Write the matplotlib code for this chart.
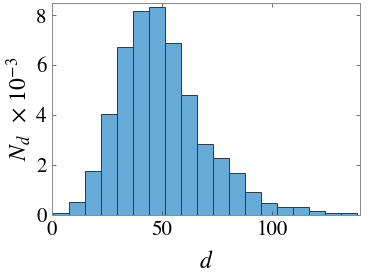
import numpy as np
import matplotlib
matplotlib.use("Agg")
import matplotlib.pyplot as plt

# bin edges of the histogram (d values)
bin_start = 0.3
bin_width = 7.28
n_bins = 19
edges = bin_start + bin_width * np.arange(n_bins + 1)
# counts (x 10^-3)
counts = [0.08, 0.49, 1.76, 4.03, 6.72, 8.18, 8.34, 6.88, 4.79, 2.85,
          2.27, 1.68, 0.92, 0.46, 0.32, 0.32, 0.13, 0.08, 0.08]
xticks = [0, 50, 100]
yticks = [0, 2, 4, 6, 8]

plt.rcParams['mathtext.fontset'] = 'stix'
plt.rcParams['font.family'] = ['STIXGeneral', 'DejaVu Serif']

fig = plt.figure(figsize=(3.74, 2.73), dpi=100)
ax = fig.add_axes([0.139, 0.214, 0.824, 0.776])
ax.bar(edges[:-1], counts, width=np.diff(edges), align='edge',
       color='#66AAD7', edgecolor='#2b3a47', linewidth=0.7)
ax.set_xlim(0, 140)
ax.set_ylim(0, 8.5)
ax.set_xticks(xticks)
ax.set_yticks(yticks)
ax.tick_params(direction='in', top=True, right=True, labelsize=15,
               color='#555555', length=3, width=0.6, pad=4)
for s in ax.spines.values():
    s.set_color('#888888')
    s.set_linewidth(0.7)
ax.set_xlabel(r'$d$', fontsize=17, labelpad=8)
ax.set_ylabel(r'$N_d\;\; \times\, 10^{-3}$', fontsize=17, labelpad=2)
fig.savefig('out.png', dpi=100)
